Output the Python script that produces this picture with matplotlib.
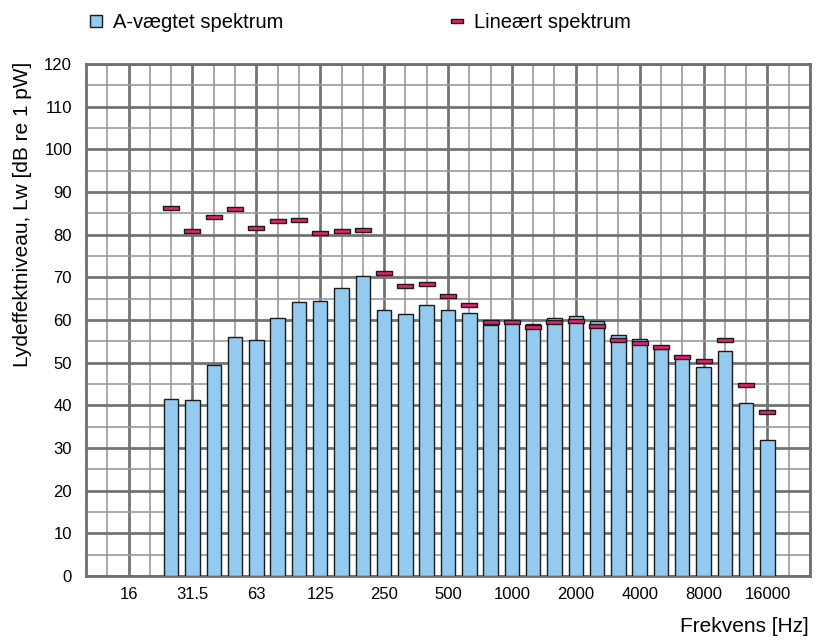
import numpy as np
import matplotlib.pyplot as plt
from matplotlib.lines import Line2D
from matplotlib.patches import Patch

plt.rcParams['font.family'] = ['Liberation Sans', 'DejaVu Sans']

# third-octave slots along the x axis (10 Hz at the left edge)
slots = ["10", "12.5", "16", "20", "25", "31.5", "40", "50", "63", "80", "100",
         "125", "160", "200", "250", "315", "400", "500", "630", "800", "1000",
         "1250", "1600", "2000", "2500", "3150", "4000", "5000", "6300", "8000",
         "10000", "12500", "16000", "20000"]
bands = ["25", "31.5", "40", "50", "63", "80", "100", "125", "160", "200", "250",
         "315", "400", "500", "630", "800", "1000", "1250", "1600", "2000", "2500",
         "3150", "4000", "5000", "6300", "8000", "10000", "12500", "16000"]
a_weighted = [41.5, 41.3, 49.5, 55.9, 55.4, 60.5, 64.3, 64.4, 67.4, 70.3, 62.3,
              61.3, 63.6, 62.4, 61.7, 58.9, 59.5, 59.0, 60.4, 61.0, 59.7,
              56.6, 55.5, 53.2, 51.0, 49.1, 52.7, 40.5, 31.8]
linear = [86.3, 80.8, 84.1, 86.1, 81.6, 83.1, 83.4, 80.5, 80.9, 81.1, 70.9,
          68.0, 68.5, 65.7, 63.6, 59.6, 59.6, 58.4, 59.5, 59.7, 58.5,
          55.4, 54.6, 53.7, 51.4, 50.3, 55.2, 44.8, 38.4]
octave_labels = ["16", "31.5", "63", "125", "250", "500", "1000", "2000", "4000", "8000", "16000"]

blue = '#92CBEF'
pink = '#E6206A'
dash = [(-1, -0.3), (1, -0.3), (1, 0.3), (-1, 0.3), (-1, -0.3)]

fig = plt.figure(figsize=(8.24, 6.4), dpi=100)
ax = fig.add_axes([86/824, 1-576/640, 724/824, 512/640])

xb = [slots.index(b) for b in bands]
ax.bar(xb, a_weighted, width=0.68, color=blue, edgecolor='#1a1a1a', linewidth=1.0, zorder=3)
ax.plot(xb, linear, ls='none', marker=dash, ms=11, mfc=pink, mec='#1a1a1a', mew=1.0, zorder=4)

ax.set_xlim(0, len(slots))
ax.set_ylim(0, 120)
ax.set_xticks([slots.index(l) for l in octave_labels], octave_labels)
ax.set_xticks(np.arange(len(slots) + 1), minor=True)
ax.set_yticks(np.arange(0, 121, 10))
ax.set_yticks(np.arange(0, 121, 5), minor=True)
ax.tick_params(which='both', length=0, labelsize=12)
ax.tick_params(axis='x', pad=8)
ax.tick_params(axis='y', pad=10)
ax.grid(which='major', color='#737373', lw=2.0, zorder=0)
ax.grid(which='minor', color='#999999', lw=1.2, zorder=0)
ax.set_axisbelow(True)
for s in ax.spines.values():
    s.set_color('#6e6e6e')
    s.set_linewidth(2)

fig.text(23/824, 1-62/640, "Lydeffektniveau, Lw [dB re 1 pW]", rotation=90,
         ha='center', va='top', fontsize=15)
fig.text(809/824, 1-627/640, "Frekvens [Hz]", ha='right', va='center', fontsize=15)

handles = [Patch(facecolor=blue, edgecolor='#1a1a1a', linewidth=1.0),
           Line2D([], [], ls='none', marker=dash, ms=8, mfc=pink, mec='#1a1a1a', mew=1.0)]
fig.legend(handles, ["A-vægtet spektrum", "Lineært spektrum"], loc='upper left',
           bbox_to_anchor=(90/824, 1-13/640), ncol=2, frameon=False, fontsize=14.5,
           handlelength=0.6, handleheight=0.6, handletextpad=0.55,
           columnspacing=8.3, borderaxespad=0, borderpad=0)

fig.savefig('out.png', dpi=100)
